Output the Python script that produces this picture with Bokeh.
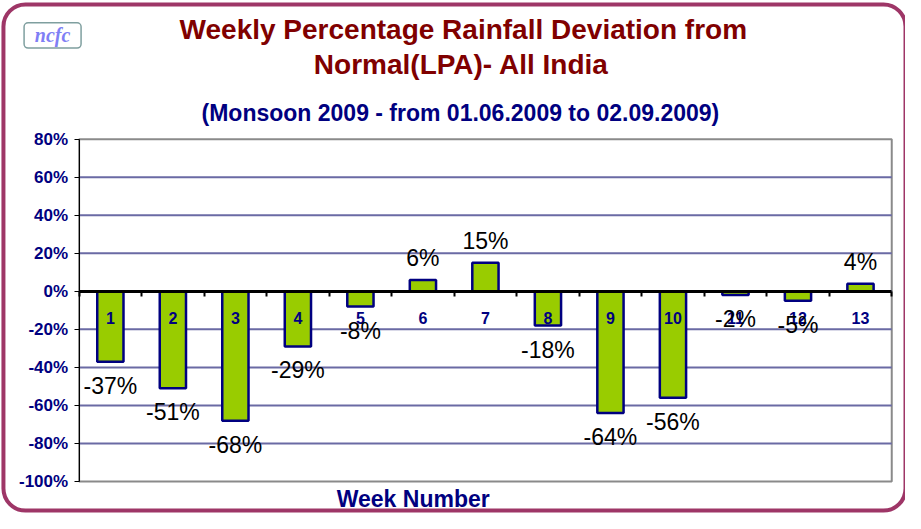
import numpy as np
from bokeh.plotting import figure
from bokeh.models import ColumnDataSource, FixedTicker, Label, BoxAnnotation, Range1d
from bokeh.core.properties import value
from bokeh.embed import file_html
from bokeh.resources import INLINE

# ---------------- data ----------------
weeks = [1, 2, 3, 4, 5, 6, 7, 8, 9, 10, 11, 12, 13]
deviation = [-37, -51, -68, -29, -8, 6, 15, -18, -64, -56, -2, -5, 4]
y_ticks = [-100, -80, -60, -40, -20, 0, 20, 40, 60, 80]
y_tick_labels = ["-100%", "-80%", "-60%", "-40%", "-20%", "0%", "20%", "40%", "60%", "80%"]
title_lines = ["Weekly Percentage Rainfall Deviation from", "Normal(LPA)- All India"]
subtitle = "(Monsoon 2009 - from 01.06.2009 to 02.09.2009)"
x_title = "Week Number"
logo_text = "ncfc"

# ---------------- layout ----------------
W, H = 905, 513
SX, SY = W / 921, H / 529          # reference pixels -> canvas pixels
XMIN, XMAX = weeks[0] - 0.5, weeks[-1] + 0.5
YMIN, YMAX = y_ticks[0], y_ticks[-1]

PL, PR, PT, PB = 80 * SX, 907 * SX, 143 * SY, 496 * SY   # plot area in canvas px
kx = (XMAX - XMIN) / (PR - PL)
ky = (YMAX - YMIN) / (PB - PT)
x_lo, x_hi = XMIN - PL * kx, XMAX + (W - PR) * kx
y_lo, y_hi = YMIN - (H - PB) * ky, YMAX + PT * ky


def dx(px):
    return x_lo + px * SX * kx


def dy(py):
    return y_hi - py * SY * ky


p = figure(width=W, height=H, x_range=Range1d(x_lo, x_hi), y_range=Range1d(y_lo, y_hi),
           output_backend="svg", toolbar_location=None, title=None,
           min_border=0, min_border_left=0, min_border_right=0,
           min_border_top=0, min_border_bottom=0)
p.background_fill_color = "white"
p.border_fill_color = "white"
p.outline_line_color = None
p.xgrid.visible = False
p.ygrid.visible = False

# plot-area frame and grid lines
p.quad(left=XMIN, right=XMAX, bottom=YMIN, top=YMAX, fill_color=None,
       line_color="#8A8A8A", line_width=2)
grid_y = y_ticks[1:-1]
p.segment(x0=[XMIN] * len(grid_y), x1=[XMAX] * len(grid_y), y0=grid_y, y1=grid_y,
          line_color="#6A6AA4", line_width=2)

# y axis
ya = p.yaxis[0]
ya.fixed_location = XMIN
ya.bounds = (YMIN, YMAX)
ya.ticker = FixedTicker(ticks=y_ticks, minor_ticks=[])
ya.major_label_overrides = {t: l for t, l in zip(y_ticks, y_tick_labels)}
ya.axis_line_color = "black"
ya.axis_line_width = 1
ya.major_tick_line_color = "black"
ya.major_tick_out = 5
ya.major_tick_in = 0
ya.minor_tick_line_color = None
ya.major_label_text_color = "#000080"
ya.major_label_text_font = "Liberation Sans"
ya.major_label_text_font_style = "bold"
ya.major_label_text_font_size = "17px"
ya.major_label_standoff = 6

# x axis crossing at zero
xa = p.xaxis[0]
xa.fixed_location = 0
xa.bounds = (XMIN, XMAX)
boundaries = [w - 0.5 for w in weeks] + [weeks[-1] + 0.5]
xa.ticker = FixedTicker(ticks=weeks, minor_ticks=boundaries)
xa.axis_line_color = "black"
xa.axis_line_width = 3
xa.major_tick_line_color = None
xa.major_tick_out = 0
xa.major_tick_in = 0
xa.minor_tick_line_color = "black"
xa.minor_tick_line_width = 2
xa.minor_tick_out = 5
xa.minor_tick_in = 0
xa.major_label_text_color = "#000080"
xa.major_label_text_font = "Liberation Sans"
xa.major_label_text_font_style = "bold"
xa.major_label_text_font_size = "16px"
xa.major_label_standoff = 16

# bars
src = ColumnDataSource(dict(
    week=weeks,
    dev=deviation,
    label=[f"{v}%" for v in deviation],
    yoff=[24 if v < 0 else -22 for v in deviation],
))
p.vbar(x="week", top="dev", bottom=0, width=0.42, source=src,
       fill_color="#99CC00", line_color="#000080", line_width=2.5)

lbl = p.text(x="week", y="dev", text="label", y_offset="yoff", source=src,
             text_align="center", text_baseline="middle",
             text_font=value("Liberation Sans"), text_font_size="23px",
             text_color="black")
lbl.level = "overlay"

# outer rounded border
p.add_layout(BoxAnnotation(left=dx(3), right=dx(921), top=dy(4), bottom=dy(526),
                           fill_alpha=0, line_color="#9E3667", line_alpha=1,
                           line_width=4, border_radius=22, level="overlay"))

# logo
p.add_layout(BoxAnnotation(left=dx(24), right=dx(82), top=dy(23), bottom=dy(49),
                           fill_color="white", fill_alpha=1, line_color="#7F9F9F",
                           line_alpha=1, line_width=1.5, border_radius=4))
p.add_layout(Label(x=dx(53), y=dy(36), text=logo_text, text_align="center",
                   text_baseline="middle", text_font="Liberation Serif",
                   text_font_style="bold italic", text_font_size="20px",
                   text_color="#7F7FF5"))

# titles
p.add_layout(Label(x=dx(471), y=dy(30), text=title_lines[0], text_align="center",
                   text_baseline="middle", text_font="Liberation Sans",
                   text_font_style="bold", text_font_size="28px", text_color="#800000"))
p.add_layout(Label(x=dx(469), y=dy(66), text=title_lines[1], text_align="center",
                   text_baseline="middle", text_font="Liberation Sans",
                   text_font_style="bold", text_font_size="28px", text_color="#800000"))
p.add_layout(Label(x=dx(468), y=dy(116), text=subtitle, text_align="center",
                   text_baseline="middle", text_font="Liberation Sans",
                   text_font_style="bold", text_font_size="23px", text_color="#000080"))
p.add_layout(Label(x=dx(420), y=dy(514), text=x_title, text_align="center",
                   text_baseline="middle", text_font="Liberation Sans",
                   text_font_style="bold", text_font_size="23px", text_color="#000080"))

open("out.html", "w").write(file_html(p, INLINE))
